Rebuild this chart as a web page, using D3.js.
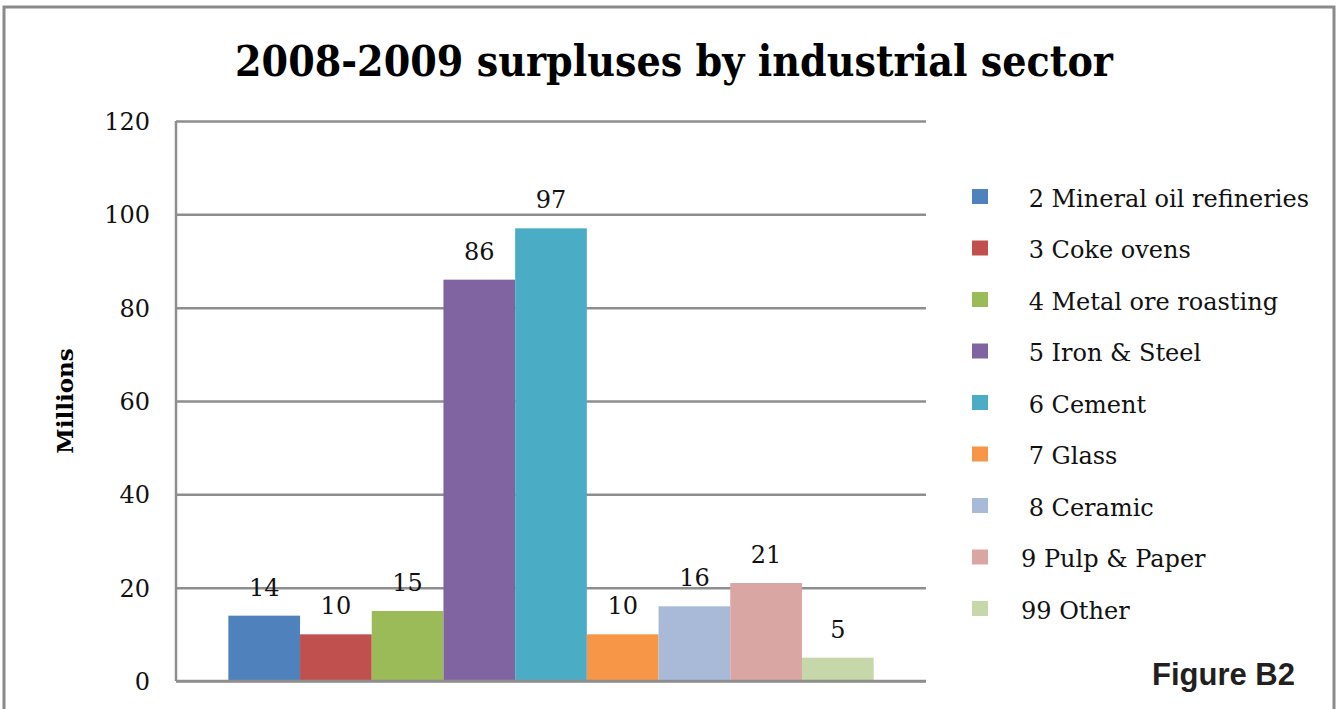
<!DOCTYPE html>
<html>
<head>
<meta charset="utf-8">
<script src="https://cdn.jsdelivr.net/npm/d3@7"></script>
<style>
  html, body { margin: 0; padding: 0; background: #fff; }
  svg { display: block; }
  text { white-space: pre; }
</style>
</head>
<body>
<svg id="chart" width="1340" height="709"></svg>
<script>
// Sector names (legend order) and 2008-2009 surpluses, in millions
const sectors = [
  " 2 Mineral oil refineries",
  " 3 Coke ovens",
  " 4 Metal ore roasting",
  " 5 Iron & Steel",
  " 6 Cement",
  " 7 Glass",
  " 8 Ceramic",
  "9 Pulp & Paper",
  "99 Other"
];
const surpluses = [14, 10, 15, 86, 97, 10, 16, 21, 5];
const sectorColors = [
  "#4f81bd", "#c0504d", "#9bbb59", "#8064a2", "#4bacc6",
  "#f79646", "#a9bad8", "#d9a6a4", "#c6d7a9"
];
const yTicks = [0, 20, 40, 60, 80, 100, 120];
const titleText = "2008-2009 surpluses by industrial sector";
const yAxisTitle = "Millions";
const figureLabel = "Figure B2";

const svg = d3.select("#chart");
const serif = "'DejaVu Serif', serif";
const grid = "#8e8e8e";

// Outer frame
svg.append("rect")
  .attr("x", 4).attr("y", 7)
  .attr("width", 1330).attr("height", 720)
  .attr("fill", "none").attr("stroke", "#8a8a8a").attr("stroke-width", 3);

// Plot area
const plot = { left: 176, right: 926, top: 121, bottom: 681 };

const y = d3.scaleLinear().domain([0, 120]).range([plot.bottom, plot.top]);
const x = d3.scaleBand()
  .domain(sectors)
  .range([plot.left, plot.right])
  .paddingInner(0)
  .paddingOuter(0.73);
const color = d3.scaleOrdinal().domain(sectors).range(sectorColors);

// Horizontal gridlines + tick labels via a left axis
const yAxis = d3.axisLeft(y)
  .tickValues(yTicks)
  .tickSize(-(plot.right - plot.left))
  .tickPadding(26)
  .tickFormat(d3.format("d"));

const gAxis = svg.append("g")
  .attr("transform", `translate(${plot.left},0)`)
  .call(yAxis);
gAxis.select(".domain").remove();
gAxis.selectAll(".tick line")
  .attr("stroke", grid).attr("stroke-width", 2.5);
gAxis.selectAll(".tick text")
  .attr("font-family", serif).attr("font-size", 24)
  .attr("fill", "#111").attr("dy", "0.36em");

// Vertical axis line
svg.append("line")
  .attr("x1", plot.left).attr("x2", plot.left)
  .attr("y1", y(120)).attr("y2", y(0))
  .attr("stroke", grid).attr("stroke-width", 2.5);

// Bars
const data = sectors.map((s, i) => ({ sector: s, value: surpluses[i] }));

svg.append("g").selectAll("rect")
  .data(data)
  .join("rect")
  .attr("x", d => x(d.sector))
  .attr("width", x.bandwidth())
  .attr("y", d => y(d.value))
  .attr("height", d => y(0) - y(d.value))
  .attr("fill", d => color(d.sector));

// Baseline redrawn over bar bottoms
svg.append("line")
  .attr("x1", plot.left).attr("x2", plot.right)
  .attr("y1", y(0)).attr("y2", y(0))
  .attr("stroke", grid).attr("stroke-width", 2.5);

// Value labels
svg.append("g").selectAll("text")
  .data(data)
  .join("text")
  .attr("x", d => x(d.sector) + x.bandwidth() / 2)
  .attr("y", d => y(d.value) - 20)
  .attr("text-anchor", "middle")
  .attr("font-family", serif).attr("font-size", 24)
  .attr("fill", "#111")
  .text(d => d3.format("d")(d.value));

// Title, fitted to its box width
const title = svg.append("text")
  .attr("x", 235).attr("y", 76)
  .attr("font-family", serif).attr("font-weight", "bold")
  .attr("font-size", 43).attr("fill", "#000")
  .text(titleText);
const titleWidth = 878;
if (title.node().getComputedTextLength() > titleWidth) {
  title.attr("textLength", titleWidth).attr("lengthAdjust", "spacingAndGlyphs");
}

// Y axis title
svg.append("text")
  .attr("transform", "translate(73,401) rotate(-90)")
  .attr("text-anchor", "middle")
  .attr("font-family", serif).attr("font-weight", "bold")
  .attr("font-size", 23).attr("fill", "#000")
  .text(yAxisTitle);

// Legend
const legendRow = d3.scalePoint().domain(sectors).range([196.5, 608.5]);
const legend = svg.append("g").selectAll("g")
  .data(sectors)
  .join("g")
  .attr("transform", d => `translate(0,${legendRow(d)})`);
legend.append("rect")
  .attr("x", 972).attr("y", -7.5)
  .attr("width", 16).attr("height", 15)
  .attr("fill", d => color(d));
legend.append("text")
  .attr("x", 1021).attr("y", 10)
  .attr("font-family", serif).attr("font-size", 24)
  .attr("fill", "#111")
  .text(d => d);

// Figure tag
svg.append("text")
  .attr("x", 1152).attr("y", 685)
  .attr("font-family", "'Liberation Sans', Arial, sans-serif")
  .attr("font-weight", "bold").attr("font-size", 31)
  .attr("fill", "#231f20")
  .text(figureLabel);
</script>
</body>
</html>
